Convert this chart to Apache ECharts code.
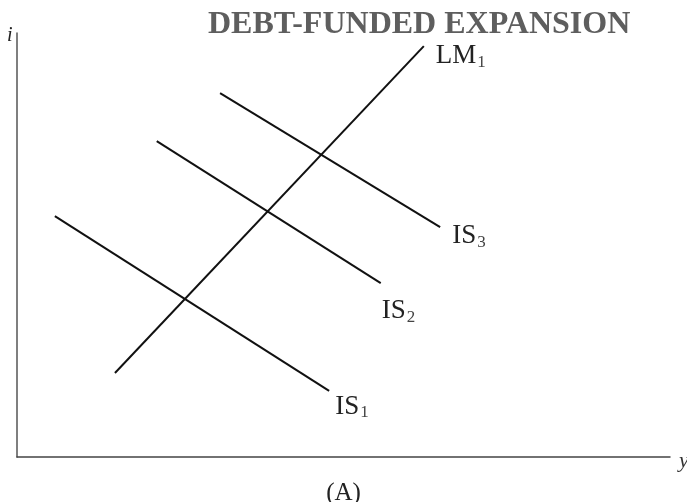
<!DOCTYPE html>
<html><head><meta charset="utf-8">
<script src="https://cdn.jsdelivr.net/npm/echarts@6/dist/echarts.min.js"></script>
<style>html,body{margin:0;padding:0;background:#fff}#c{width:687px;height:502px}</style>
</head><body><div id="c"></div>
<script>
// Curves: [Y, i] endpoints in abstract units (0-100)
const LM1 = [[15.0, 19.8], [62.3, 96.9]];
const IS1 = [[5.8, 56.8], [47.8, 15.6]];
const IS2 = [[21.4, 74.5], [55.7, 41.0]];
const IS3 = [[31.1, 85.8], [64.8, 54.2]];
const curveNames = ['LM1', 'IS1', 'IS2', 'IS3'];
const curveLabels = ['{b|LM}{s|1}', '{b|IS}{s|1}', '{b|IS}{s|2}', '{b|IS}{s|3}'];
const labelOffsets = [[4, 10], [-2, 16], [-7, 28], [4, 9]];
const title = 'DEBT-FUNDED EXPANSION';
const xName = '(A)';

const chart = echarts.init(document.getElementById('c'), null, {renderer: 'canvas'});
const rich = {
  b: {fontFamily: 'Liberation Serif', fontSize: 27, color: '#222'},
  s: {fontFamily: 'Liberation Serif', fontSize: 17, color: '#444', padding: [12, 0, 0, 1]}
};
const curves = [LM1, IS1, IS2, IS3];
chart.setOption({
  animation: false,
  backgroundColor: '#fff',
  title: {
    text: title, left: 203, top: 4,
    textStyle: {fontFamily: 'Liberation Serif', fontWeight: 'bold', fontSize: 32, color: '#5e5e5e'}
  },
  grid: {left: 17, right: 17, top: 33, bottom: 45, outerBoundsMode: 'none', containLabel: false},
  xAxis: {
    type: 'value', min: 0, max: 100,
    name: xName, nameLocation: 'middle', nameGap: 24,
    nameTextStyle: {fontFamily: 'Liberation Serif', fontSize: 25, color: '#222'},
    axisLine: {show: true, lineStyle: {color: '#444', width: 1.5}},
    axisTick: {show: false}, axisLabel: {show: false}, splitLine: {show: false}
  },
  yAxis: {
    type: 'value', min: 0, max: 100,
    axisLine: {show: true, lineStyle: {color: '#555', width: 1.5}},
    axisTick: {show: false}, axisLabel: {show: false}, splitLine: {show: false}
  },
  graphic: [
    {type: 'text', left: 7, top: 26, style: {text: 'i', font: 'italic 20px "Liberation Serif"', fill: '#222'}},
    {type: 'text', left: 679, top: 450, style: {text: 'y', font: 'italic 22px "Liberation Serif"', fill: '#333'}}
  ],
  series: curves.map((d, k) => ({
    name: curveNames[k], type: 'line', data: d, symbol: 'none',
    lineStyle: {color: '#111', width: 2},
    endLabel: {show: true, formatter: curveLabels[k], rich: rich, offset: labelOffsets[k]}
  }))
});
</script></body></html>
